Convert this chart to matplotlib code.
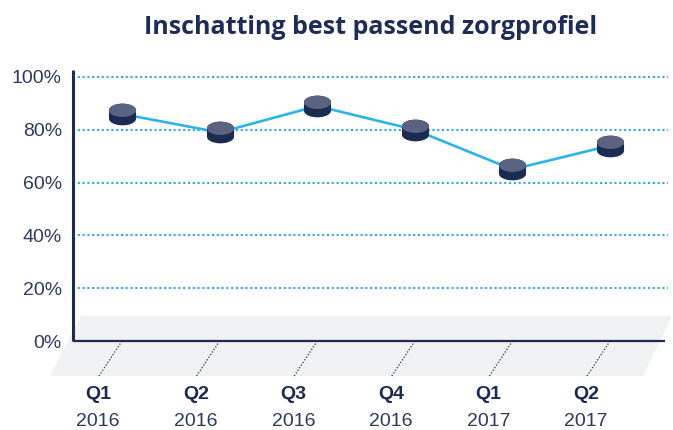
import numpy as np
import matplotlib
matplotlib.use("Agg")
import matplotlib.pyplot as plt
from matplotlib.path import Path
from matplotlib.patches import Polygon

# ---- data ----
quarters = ["Q1", "Q2", "Q3", "Q4", "Q1", "Q2"]
years = ["2016", "2016", "2016", "2016", "2017", "2017"]
values = [86, 79, 89, 80, 65, 74]
yticks = [0, 20, 40, 60, 80, 100]
title = "Inschatting best passend zorgprofiel"

NAVY = "#1c2b52"
LABEL = "#2d3a5c"
CYAN = "#29abe2"
LINE = "#2cb4e6"
TOPC = "#5a6381"
FLOOR = "#f0f1f3"

plt.rcParams['font.family'] = ['Liberation Sans', 'DejaVu Sans']

fig = plt.figure(figsize=(6.73, 4.30), dpi=100)
ax = fig.add_axes([73/673, 50/430, 600/673, 310/430])
ax.set_xlim(-0.502, 5.645)
ax.set_ylim(-14.77, 102.65)
for s in ax.spines.values():
    s.set_visible(False)
ax.set_xticks([])
ax.set_yticks(yticks)
ax.set_yticklabels([f"{v}%" for v in yticks], fontsize=14, color=LABEL)
ax.tick_params(axis='y', length=0, pad=8)
ax.patch.set_alpha(0)

# floor
floor = Polygon([(-0.42, 9.47), (5.635, 9.47), (5.338, -13.26), (-0.738, -13.26)],
                closed=True, facecolor=FLOOR, edgecolor='none', zorder=0, clip_on=False)
ax.add_patch(floor)

# gridlines
ax.hlines(yticks[1:], -0.502, 5.594, colors=CYAN, linestyles=(0, (1, 1.3)), linewidth=1.5, zorder=1)

# axes lines
ax.plot([-0.502, 5.563], [0, 0], color=NAVY, lw=1.6, zorder=3, clip_on=False, solid_capstyle='butt')
ax.plot([-0.502, -0.502], [0, 102.65], color=NAVY, lw=2.2, zorder=3, clip_on=False, solid_capstyle='butt')

# tick diagonals and labels
x = np.arange(len(values))
for i in x:
    ax.plot([i, i - 0.236], [0, -13.26], color=NAVY, lw=0.9, linestyle=(0, (1, 1.5)), zorder=2, clip_on=False)
    ax.text(i - 0.245, -20.45, quarters[i], ha='center', va='center', fontsize=14,
            fontweight='bold', color=NAVY, clip_on=False)
    ax.text(i - 0.245, -30.3, years[i], ha='center', va='center', fontsize=14,
            color=LABEL, clip_on=False)

# line
ax.plot(x, values, color=LINE, lw=1.9, zorder=4, clip_on=False)

# cylinder markers
ry, hh = 0.49, 0.31
t1 = np.linspace(np.pi, 2*np.pi, 40)
t2 = np.linspace(0, np.pi, 40)
body = np.vstack([[[-1, hh]],
                  np.column_stack([np.cos(t1), -hh + ry*np.sin(t1)]),
                  [[1, hh]],
                  np.column_stack([np.cos(t2), hh + ry*np.sin(t2)])])
body_path = Path(np.vstack([body, body[:1]]), closed=True)
tt = np.linspace(0, 2*np.pi, 80)
top = np.column_stack([np.cos(tt), hh + ry*np.sin(tt)])
top_path = Path(np.vstack([top, top[:1]]), closed=True)

ax.plot(x, values, linestyle='none', marker=body_path, markersize=19.5,
        markerfacecolor=NAVY, markeredgewidth=0, zorder=5, clip_on=False)
ax.plot(x, values, linestyle='none', marker=top_path, markersize=19.5,
        markerfacecolor=TOPC, markeredgewidth=0, zorder=6, clip_on=False)

fig.text(371/673, 1 - 28/430, title, ha='center', va='center', fontsize=18,
         fontweight='bold', color="#1e2d55", family=['Open Sans', 'DejaVu Sans'])

fig.savefig("out.png", dpi=100)
